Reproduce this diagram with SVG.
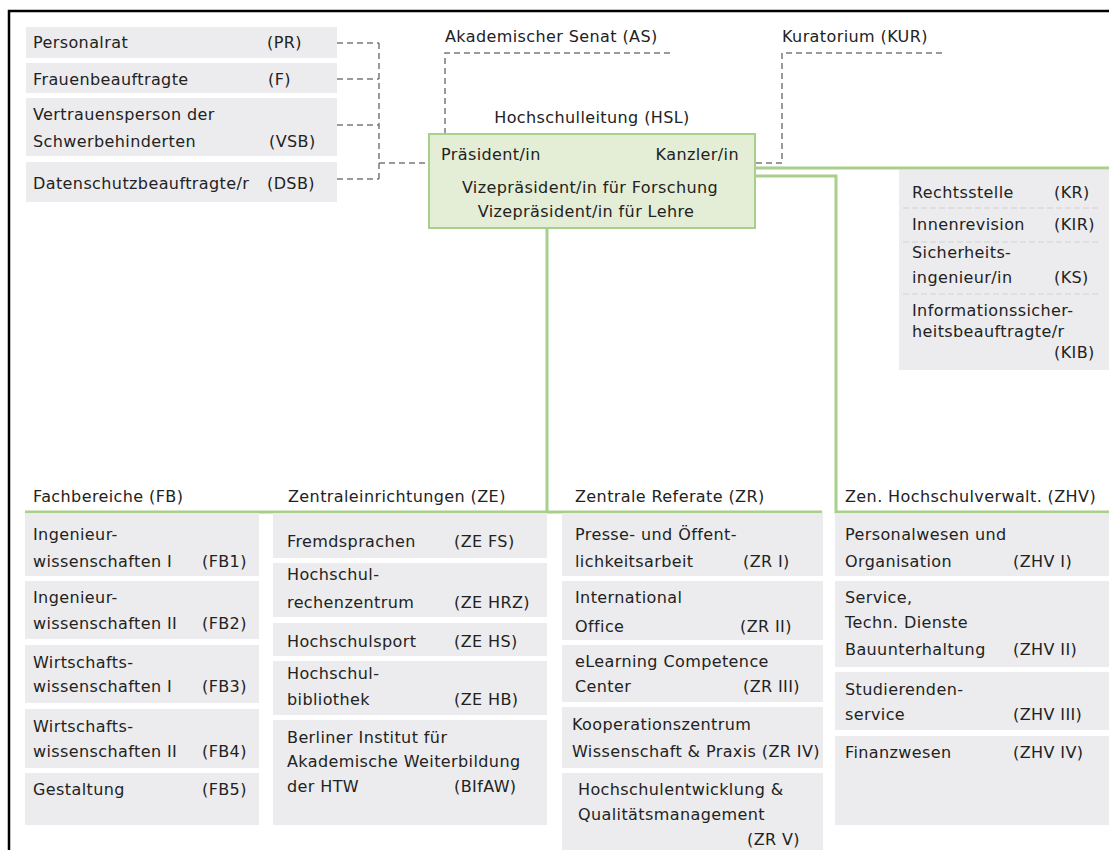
<svg xmlns="http://www.w3.org/2000/svg" width="1109" height="850" viewBox="0 0 1109 850">
  <style>
    .t { font-family: "DejaVu Sans", Verdana, sans-serif; font-size: 16px; fill: #222; letter-spacing: 0.4px; }
    .box { fill: #ececee; }
    .hsl { fill: #e4edd5; stroke: #a9cf8c; stroke-width: 2; }
    .dash { fill: none; stroke: #7a7a7a; stroke-width: 1.5; stroke-dasharray: 6 4; }
    .sep { fill: none; stroke: #d2d2d4; stroke-width: 1.2; stroke-dasharray: 6 3; }
    .green { fill: none; stroke: #a9cf8c; stroke-width: 3; }
    .frame { fill: none; stroke: #000; stroke-width: 2.5; }
  </style>

  <!-- outer frame (top and left edge) -->
  <path class="frame" d="M9,850 V11 H1109"/>

  <!-- connectors -->
  <g id="connectors">
    <path class="dash" d="M337,43 H379 M337,79 H379 M337,125 H379 M337,179 H379 M379,43 V179 M379,163 H429"/>
    <path class="dash" d="M670,53 H445 V134"/>
    <path class="dash" d="M942,53 H782 V163 H755"/>
    <path class="green" d="M547,228 V512 M25,512 H822"/>
    <path class="green" d="M755,176 H836 V512 H1109"/>
    <path class="green" d="M755,168 H1109"/>
  </g>

  <!-- staff units left -->
  <g id="pr">
    <rect class="box" x="26" y="27" width="311" height="31"/>
    <text class="t" x="33" y="48">Personalrat</text>
    <text class="t" x="267" y="48">(PR)</text>
  </g>
  <g id="f">
    <rect class="box" x="26" y="63" width="311" height="30"/>
    <text class="t" x="33" y="85">Frauenbeauftragte</text>
    <text class="t" x="268" y="85">(F)</text>
  </g>
  <g id="vsb">
    <rect class="box" x="26" y="98" width="311" height="58"/>
    <text class="t" x="33" y="120">Vertrauensperson der</text>
    <text class="t" x="33" y="147">Schwerbehinderten</text>
    <text class="t" x="269" y="147">(VSB)</text>
  </g>
  <g id="dsb">
    <rect class="box" x="26" y="162" width="311" height="40"/>
    <text class="t" x="33" y="189">Datenschutzbeauftragte/r</text>
    <text class="t" x="267" y="189">(DSB)</text>
  </g>

  <!-- boards -->
  <g id="as">
    <text class="t" x="445" y="42">Akademischer Senat (AS)</text>
  </g>
  <g id="kur">
    <text class="t" x="782" y="42">Kuratorium (KUR)</text>
  </g>

  <!-- university management -->
  <g id="hsl">
    <text class="t" x="592" y="123" text-anchor="middle">Hochschulleitung (HSL)</text>
    <rect class="hsl" x="429" y="134" width="326" height="94"/>
    <text class="t" x="441" y="160">Präsident/in</text>
    <text class="t" x="739" y="160" text-anchor="end">Kanzler/in</text>
    <text class="t" x="590" y="193" text-anchor="middle">Vizepräsident/in für Forschung</text>
    <text class="t" x="586" y="217" text-anchor="middle">Vizepräsident/in für Lehre</text>
  </g>

  <!-- chancellor staff units -->
  <g id="kanzler-stab">
    <rect class="box" x="899" y="170" width="210" height="200"/>
    <path class="sep" d="M903,208 H1100 M903,242 H1100 M903,294 H1100"/>
    <text class="t" x="912" y="198">Rechtsstelle</text>
    <text class="t" x="1054" y="198">(KR)</text>
    <text class="t" x="912" y="230">Innenrevision</text>
    <text class="t" x="1054" y="230">(KIR)</text>
    <text class="t" x="912" y="258">Sicherheits-</text>
    <text class="t" x="912" y="283">ingenieur/in</text>
    <text class="t" x="1054" y="283">(KS)</text>
    <text class="t" x="912" y="316">Informationssicher-</text>
    <text class="t" x="912" y="337">heitsbeauftragte/r</text>
    <text class="t" x="1054" y="358">(KIB)</text>
  </g>

  <!-- Fachbereiche -->
  <g id="fb">
    <text class="t" x="33" y="502">Fachbereiche (FB)</text>
    <rect class="box" x="25" y="513" width="234" height="63"/>
    <text class="t" x="33" y="540">Ingenieur-</text>
    <text class="t" x="33" y="567">wissenschaften I</text>
    <text class="t" x="202" y="567">(FB1)</text>
    <rect class="box" x="25" y="581" width="234" height="58"/>
    <text class="t" x="33" y="603">Ingenieur-</text>
    <text class="t" x="33" y="629">wissenschaften II</text>
    <text class="t" x="202" y="629">(FB2)</text>
    <rect class="box" x="25" y="645" width="234" height="58"/>
    <text class="t" x="33" y="668">Wirtschafts-</text>
    <text class="t" x="33" y="692">wissenschaften I</text>
    <text class="t" x="202" y="692">(FB3)</text>
    <rect class="box" x="25" y="709" width="234" height="59"/>
    <text class="t" x="33" y="732">Wirtschafts-</text>
    <text class="t" x="33" y="757">wissenschaften II</text>
    <text class="t" x="202" y="757">(FB4)</text>
    <rect class="box" x="25" y="773" width="234" height="52"/>
    <text class="t" x="33" y="795">Gestaltung</text>
    <text class="t" x="202" y="795">(FB5)</text>
  </g>

  <!-- Zentraleinrichtungen -->
  <g id="ze">
    <text class="t" x="288" y="502">Zentraleinrichtungen (ZE)</text>
    <rect class="box" x="273" y="513" width="274" height="45"/>
    <text class="t" x="287" y="547">Fremdsprachen</text>
    <text class="t" x="454" y="547">(ZE FS)</text>
    <rect class="box" x="273" y="563" width="274" height="54"/>
    <text class="t" x="287" y="580">Hochschul-</text>
    <text class="t" x="287" y="608">rechenzentrum</text>
    <text class="t" x="454" y="608">(ZE HRZ)</text>
    <rect class="box" x="273" y="623" width="274" height="33"/>
    <text class="t" x="287" y="647">Hochschulsport</text>
    <text class="t" x="454" y="647">(ZE HS)</text>
    <rect class="box" x="273" y="661" width="274" height="54"/>
    <text class="t" x="287" y="679">Hochschul-</text>
    <text class="t" x="287" y="705">bibliothek</text>
    <text class="t" x="454" y="705">(ZE HB)</text>
    <rect class="box" x="273" y="720" width="274" height="105"/>
    <text class="t" x="287" y="743">Berliner Institut für</text>
    <text class="t" x="287" y="767">Akademische Weiterbildung</text>
    <text class="t" x="287" y="792">der HTW</text>
    <text class="t" x="454" y="792">(BIfAW)</text>
  </g>

  <!-- Zentrale Referate -->
  <g id="zr">
    <text class="t" x="575" y="502">Zentrale Referate (ZR)</text>
    <rect class="box" x="562" y="513" width="261" height="63"/>
    <text class="t" x="575" y="540">Presse- und Öffent-</text>
    <text class="t" x="575" y="567">lichkeitsarbeit</text>
    <text class="t" x="743" y="567">(ZR I)</text>
    <rect class="box" x="562" y="581" width="261" height="59"/>
    <text class="t" x="575" y="603">International</text>
    <text class="t" x="575" y="632">Office</text>
    <text class="t" x="740" y="632">(ZR II)</text>
    <rect class="box" x="562" y="645" width="261" height="57"/>
    <text class="t" x="575" y="667">eLearning Competence</text>
    <text class="t" x="575" y="692">Center</text>
    <text class="t" x="743" y="692">(ZR III)</text>
    <rect class="box" x="562" y="707" width="261" height="61"/>
    <text class="t" x="572" y="730">Kooperationszentrum</text>
    <text class="t" x="572" y="757">Wissenschaft &amp; Praxis (ZR IV)</text>
    <rect class="box" x="562" y="773" width="261" height="77"/>
    <text class="t" x="578" y="795">Hochschulentwicklung &amp;</text>
    <text class="t" x="578" y="820">Qualitätsmanagement</text>
    <text class="t" x="747" y="845">(ZR V)</text>
  </g>

  <!-- Zentrale Hochschulverwaltung -->
  <g id="zhv">
    <text class="t" x="845" y="502">Zen. Hochschulverwalt. (ZHV)</text>
    <rect class="box" x="835" y="513" width="274" height="63"/>
    <text class="t" x="845" y="540">Personalwesen und</text>
    <text class="t" x="845" y="567">Organisation</text>
    <text class="t" x="1013" y="567">(ZHV I)</text>
    <rect class="box" x="835" y="581" width="274" height="86"/>
    <text class="t" x="845" y="603">Service,</text>
    <text class="t" x="845" y="628">Techn. Dienste</text>
    <text class="t" x="845" y="655">Bauunterhaltung</text>
    <text class="t" x="1013" y="655">(ZHV II)</text>
    <rect class="box" x="835" y="672" width="274" height="58"/>
    <text class="t" x="845" y="695">Studierenden-</text>
    <text class="t" x="845" y="720">service</text>
    <text class="t" x="1013" y="720">(ZHV III)</text>
    <rect class="box" x="835" y="736" width="274" height="89"/>
    <text class="t" x="845" y="758">Finanzwesen</text>
    <text class="t" x="1013" y="758">(ZHV IV)</text>
  </g>
</svg>
